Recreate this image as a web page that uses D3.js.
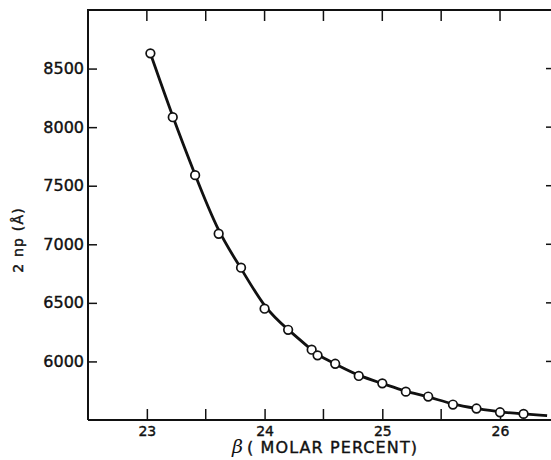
<!DOCTYPE html>
<html>
<head>
<meta charset="utf-8">
<script src="https://cdn.jsdelivr.net/npm/d3@7"></script>
<style>
  body { margin: 0; background: #fff; }
</style>
</head>
<body>
<div id="chart"></div>
<script>
// Measured points: beta (molar percent) vs 2np (Angstrom)
const beta = [23.03, 23.22, 23.41, 23.61, 23.80, 24.0, 24.2, 24.40, 24.45, 24.60,
              24.80, 25.0, 25.20, 25.39, 25.60, 25.80, 26.0, 26.2];
const twoNp = [8630, 8085, 7590, 7090, 6800, 6450, 6270, 6100, 6052, 5980,
               5876, 5813, 5742, 5700, 5632, 5598, 5566, 5552];
// fitted curve runs a bit past the last point
const curveEnd = [26.4, 5537];

const xTicks = [23, 24, 25, 26];
const xMinor = [23.5, 24.5, 25.5];
const yTicks = [6000, 6500, 7000, 7500, 8000, 8500];

const width = 551, height = 460;
const mLeft = 88, mRight = 553, mTop = 10, mBottom = 420;
const font = '"DejaVu Sans", sans-serif';
const ink = '#111';

const svg = d3.select('#chart').append('svg')
  .attr('width', width)
  .attr('height', height);

const x = d3.scaleLinear().domain([22.5, 26.45]).range([mLeft, mRight]);
const y = d3.scaleLinear().domain([5500, 9000]).range([mBottom, mTop]);

// frame
svg.append('path')
  .attr('d', `M${mLeft},${mBottom}H${mRight}M${mLeft},${mBottom}V${mTop}H${mRight}V${mBottom}`)
  .attr('stroke', ink)
  .attr('stroke-width', 2)
  .attr('fill', 'none');

// bottom axis
const xAxis = svg.append('g').attr('transform', `translate(0,${mBottom})`)
  .call(d3.axisBottom(x).tickValues(xTicks).tickSizeInner(-11).tickSizeOuter(0).tickPadding(6).tickFormat(d3.format('d')));
xAxis.select('.domain').remove();
xAxis.selectAll('line').attr('stroke', ink).attr('stroke-width', 1.5);
xAxis.selectAll('text').attr('font-size', 14).attr('font-family', font)
  .attr('fill', ink).attr('stroke', ink).attr('stroke-width', 0.4);

svg.append('g').selectAll('line').data(xMinor).join('line')
  .attr('x1', d => x(d)).attr('x2', d => x(d))
  .attr('y1', mBottom).attr('y2', mBottom - 11)
  .attr('stroke', ink).attr('stroke-width', 1.5);

// top ticks
svg.append('g').selectAll('line').data(xTicks.concat(xMinor)).join('line')
  .attr('x1', d => x(d)).attr('x2', d => x(d))
  .attr('y1', mTop).attr('y2', mTop + 11)
  .attr('stroke', ink).attr('stroke-width', 1.5);

// left axis
const yAxis = svg.append('g').attr('transform', `translate(${mLeft},0)`)
  .call(d3.axisLeft(y).tickValues(yTicks).tickSizeInner(-9).tickSizeOuter(0).tickPadding(4).tickFormat(d3.format('d')));
yAxis.select('.domain').remove();
yAxis.selectAll('line').attr('stroke', ink).attr('stroke-width', 1.5);
yAxis.selectAll('text').attr('font-size', 16).attr('font-family', font)
  .attr('fill', ink).attr('stroke', ink).attr('stroke-width', 0.4);

// right ticks
svg.append('g').selectAll('line').data(yTicks).join('line')
  .attr('x1', mRight).attr('x2', mRight - 7)
  .attr('y1', d => y(d)).attr('y2', d => y(d))
  .attr('stroke', ink).attr('stroke-width', 1.5);

// curve
const pts = beta.map((b, i) => [b, twoNp[i]]).concat([curveEnd]);
const line = d3.line().x(d => x(d[0])).y(d => y(d[1])).curve(d3.curveBasis);
svg.append('path')
  .datum(pts)
  .attr('d', line)
  .attr('fill', 'none')
  .attr('stroke', ink)
  .attr('stroke-width', 2.8);

// points
svg.append('g').selectAll('circle').data(beta).join('circle')
  .attr('cx', d => x(d))
  .attr('cy', (d, i) => y(twoNp[i]))
  .attr('r', 4.3)
  .attr('fill', '#fff')
  .attr('stroke', ink)
  .attr('stroke-width', 1.7);

// axis titles
svg.append('text')
  .attr('transform', 'translate(23,240) rotate(-90)')
  .attr('text-anchor', 'middle')
  .attr('font-family', font)
  .attr('font-size', 14)
  .attr('letter-spacing', 1.2)
  .attr('fill', ink)
  .attr('stroke', ink)
  .attr('stroke-width', 0.4)
  .text('2 np (Å)');

svg.append('text')
  .attr('x', 232)
  .attr('y', 453)
  .attr('font-family', '"DejaVu Serif", serif')
  .attr('font-style', 'italic')
  .attr('font-size', 19)
  .attr('fill', ink)
  .text('β');

svg.append('text')
  .attr('x', 247)
  .attr('y', 453)
  .attr('font-family', font)
  .attr('font-size', 16)
  .attr('letter-spacing', 1.1)
  .attr('fill', ink)
  .attr('stroke', ink)
  .attr('stroke-width', 0.4)
  .text('( MOLAR PERCENT)');
</script>
</body>
</html>
